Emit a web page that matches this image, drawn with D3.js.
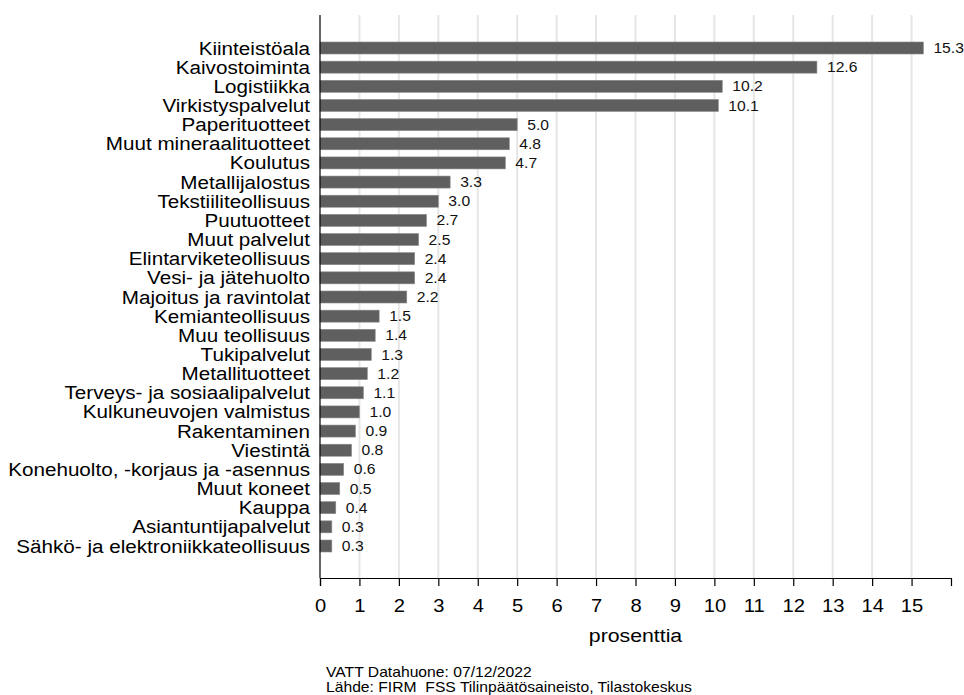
<!DOCTYPE html>
<html><head><meta charset="utf-8">
<script src="https://cdn.jsdelivr.net/npm/d3@7"></script>
<style>body{margin:0;background:#fff;} svg{display:block;font-family:"Liberation Sans",Arial,sans-serif;} text{white-space:pre;}</style>
</head><body>
<script>
const categories = ["Kiinteistöala","Kaivostoiminta","Logistiikka","Virkistyspalvelut","Paperituotteet","Muut mineraalituotteet","Koulutus","Metallijalostus","Tekstiiliteollisuus","Puutuotteet","Muut palvelut","Elintarviketeollisuus","Vesi- ja jätehuolto","Majoitus ja ravintolat","Kemianteollisuus","Muu teollisuus","Tukipalvelut","Metallituotteet","Terveys- ja sosiaalipalvelut","Kulkuneuvojen valmistus","Rakentaminen","Viestintä","Konehuolto, -korjaus ja -asennus","Muut koneet","Kauppa","Asiantuntijapalvelut","Sähkö- ja elektroniikkateollisuus"];
const values = [15.3,12.6,10.2,10.1,5.0,4.8,4.7,3.3,3.0,2.7,2.5,2.4,2.4,2.2,1.5,1.4,1.3,1.2,1.1,1.0,0.9,0.8,0.6,0.5,0.4,0.3,0.3];
const xTicks = [0,1,2,3,4,5,6,7,8,9,10,11,12,13,14,15];
const xTitle = "prosenttia";
const footer = ["VATT Datahuone: 07/12/2022","Lähde: FIRM  FSS Tilinpäätösaineisto, Tilastokeskus"];

(function(){
const W=964,H=695, S=1.12;
const svg=d3.select("body").append("svg").attr("width",W).attr("height",H);
const x=d3.scaleLinear().domain([0,16]).range([320,951]);
const y=d3.scalePoint().domain(categories).range([48,546]);
const plotTop=15,plotBottom=578;
const tr=(a,b,s)=>`translate(${a},${b}) scale(${s||S},1)`;

svg.append("g").selectAll("line").data(xTicks.filter(d=>d>0)).join("line")
  .attr("x1",d=>x(d)).attr("x2",d=>x(d)).attr("y1",plotTop).attr("y2",plotBottom)
  .attr("stroke","#e6e6e6").attr("stroke-width",2);

const bh=12;
svg.append("g").selectAll("rect").data(values).join("rect")
  .attr("x",x(0)).attr("y",(d,i)=>y(categories[i])-bh/2)
  .attr("width",d=>x(d)-x(0)).attr("height",bh)
  .attr("fill","#5f5f5f").attr("stroke","#8a8a8a").attr("stroke-width",0.6);

svg.append("g").selectAll("text").data(values).join("text")
  .attr("transform",(d,i)=>tr(x(d)+10,y(categories[i])))
  .attr("dy","0.36em").attr("font-size",14).attr("fill","#111")
  .text(d=>d.toFixed(1));

svg.append("g").selectAll("text").data(categories).join("text")
  .attr("transform",d=>tr(310,y(d),1.135)).attr("dy","0.36em")
  .attr("text-anchor","end").attr("font-size",18.2).attr("fill","#000").text(d=>d);

svg.append("line").attr("x1",x(0)).attr("x2",x(0)).attr("y1",plotTop).attr("y2",plotBottom)
  .attr("stroke","#000").attr("stroke-width",1.2);

const xa=svg.append("g").attr("transform",`translate(0,${plotBottom})`)
  .call(d3.axisBottom(x).tickValues(xTicks).tickSize(8).tickPadding(13).tickFormat(d3.format("d")));
xa.select(".domain").attr("stroke","#000").attr("stroke-width",1.2);
xa.selectAll(".tick line").attr("stroke","#000").attr("stroke-width",1.2);
xa.selectAll("text").attr("font-size",18).attr("fill","#000")
  .attr("font-family","Liberation Sans, Arial, sans-serif")
  .attr("transform",`scale(${S},1)`);

svg.append("text").attr("transform",tr(x(8),642)).attr("text-anchor","middle")
  .attr("font-size",19).text(xTitle);

svg.append("g").selectAll("text").data(footer).join("text")
  .attr("transform",(d,i)=>tr(326,677+i*15)).attr("font-size",14).text(d=>d);
})();
</script>
</body></html>
